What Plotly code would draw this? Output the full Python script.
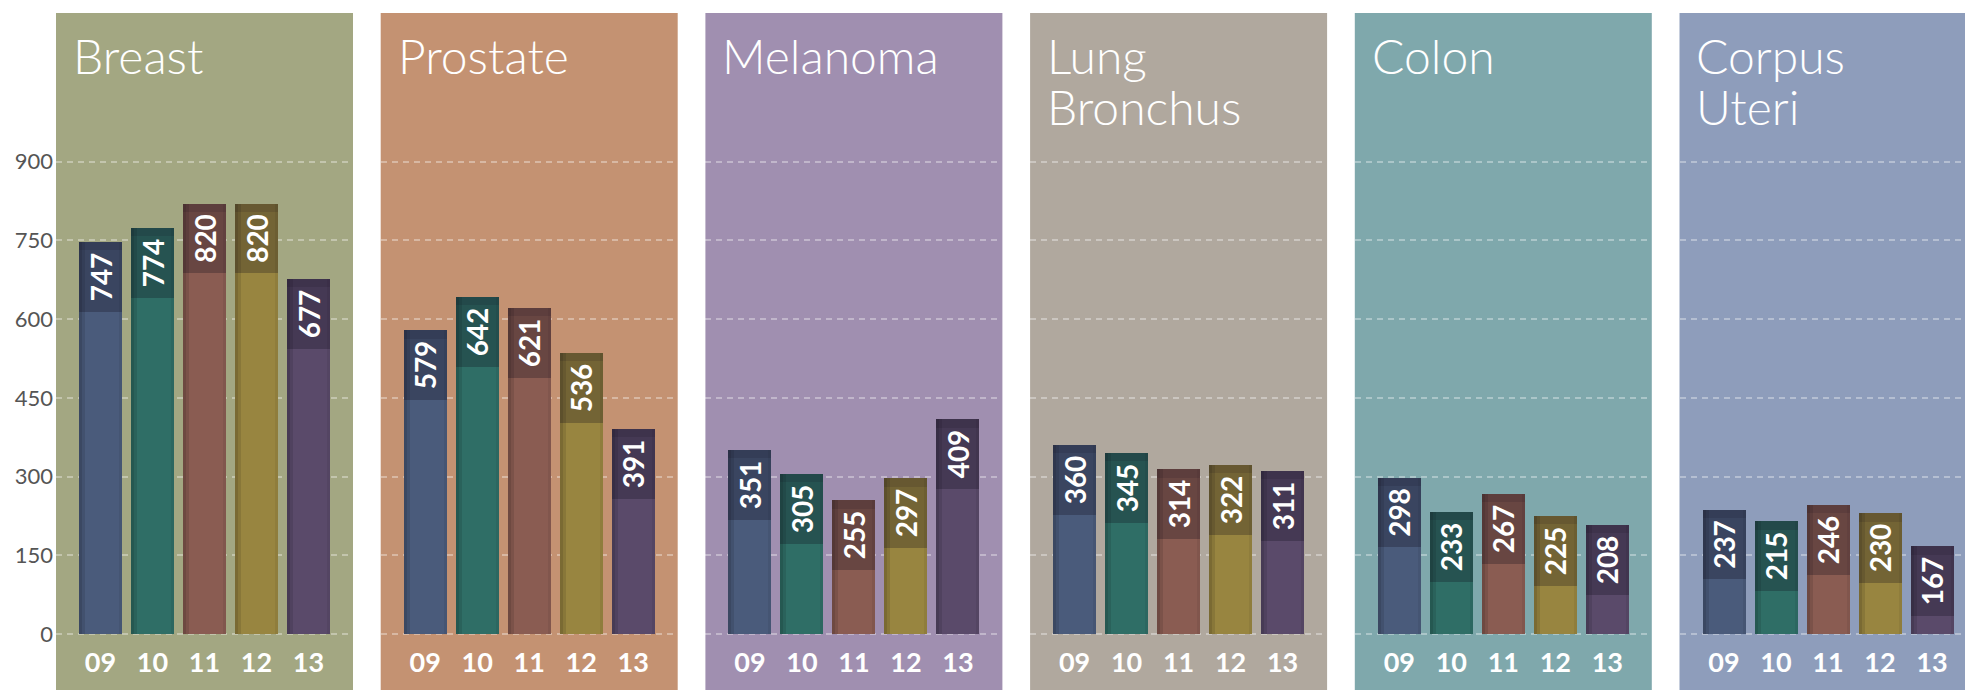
import plotly.graph_objects as go

# ---------------- data ----------------
years = ["09", "10", "11", "12", "13"]
panel_titles = [["Breast"], ["Prostate"], ["Melanoma"], ["Lung", "Bronchus"], ["Colon"], ["Corpus", "Uteri"]]
breast = [747, 774, 820, 820, 677]
prostate = [579, 642, 621, 536, 391]
melanoma = [351, 305, 255, 297, 409]
lung_bronchus = [360, 345, 314, 322, 311]
colon = [298, 233, 267, 225, 208]
corpus_uteri = [237, 215, 246, 230, 167]
y_ticks = [0, 150, 300, 450, 600, 750, 900]

series = [breast, prostate, melanoma, lung_bronchus, colon, corpus_uteri]

# ---------------- style ----------------
W, H = 1965, 690
panel_bg = ["#a3a782", "#c49272", "#a08fb0", "#b0a89e", "#7fa8ac", "#8e9dbb"]
bar_colors = ["#4a5b7b", "#2f6e66", "#8a5c52", "#988540", "#5a4a6a"]
CAP = 133          # height (data units) of the darker label cap
BAR_W = 0.83
PX_PER_CAT = 52.0
PANEL_LEFT0, PANEL_PITCH, PANEL_W = 56, 324.7, 297
PANEL_TOP_PX, ZERO_PX = 13, 634
px_per_unit = 0.5248
y_lo = -(H - ZERO_PX) / px_per_unit
y_hi = (ZERO_PX - PANEL_TOP_PX) / px_per_unit
title_font = dict(family="Lato Light, Lato", size=48, color="white", weight=300)

fig = go.Figure()
layout = dict(
    width=W, height=H, margin=dict(l=0, r=0, t=0, b=0),
    paper_bgcolor="white", plot_bgcolor="rgba(0,0,0,0)",
    barmode="overlay", showlegend=False, bargap=0,
    shapes=[], annotations=[],
)

for i, vals in enumerate(series):
    n = i + 1
    xa = "x" if n == 1 else f"x{n}"
    ya = "y" if n == 1 else f"y{n}"
    left = PANEL_LEFT0 + PANEL_PITCH * i
    d0 = left / W
    d1 = min((left + PANEL_W) / W, 1.0)
    x_lo = -0.856
    x_hi = x_lo + (d1 - d0) * W / PX_PER_CAT

    # full bars
    fig.add_trace(go.Bar(x=years, y=vals, width=BAR_W, marker=dict(color=bar_colors, line=dict(width=0)),
                         xaxis=xa, yaxis=ya, hoverinfo="skip"))
    # left-edge shading
    fig.add_trace(go.Bar(x=years, y=vals, width=0.12, offset=-BAR_W / 2,
                         marker=dict(color="rgba(0,0,0,0.10)", line=dict(width=0)),
                         xaxis=xa, yaxis=ya, hoverinfo="skip"))
    fig.add_trace(go.Bar(x=years, y=vals, width=0.05, offset=-BAR_W / 2,
                         marker=dict(color="rgba(0,0,0,0.10)", line=dict(width=0)),
                         xaxis=xa, yaxis=ya, hoverinfo="skip"))
    # right-edge shading
    fig.add_trace(go.Bar(x=years, y=vals, width=0.05, offset=BAR_W / 2 - 0.05,
                         marker=dict(color="rgba(0,0,0,0.06)", line=dict(width=0)),
                         xaxis=xa, yaxis=ya, hoverinfo="skip"))
    # dark cap with value label
    fig.add_trace(go.Bar(x=years, y=[CAP] * len(vals), base=[v - CAP for v in vals], width=BAR_W,
                         marker=dict(color="rgba(15,10,25,0.27)", line=dict(width=0)),
                         text=[str(v) for v in vals], textposition="inside", insidetextanchor="middle",
                         textangle=-90, constraintext="none",
                         textfont=dict(family="Lato", size=28, color="white", weight=700),
                         xaxis=xa, yaxis=ya, hoverinfo="skip"))
    # thin darker top edge of cap
    fig.add_trace(go.Bar(x=years, y=[CAP * 0.12] * len(vals), base=[v - CAP * 0.12 for v in vals], width=BAR_W,
                         marker=dict(color="rgba(15,10,25,0.12)", line=dict(width=0)),
                         xaxis=xa, yaxis=ya, hoverinfo="skip"))

    layout[f"xaxis{'' if n == 1 else n}"] = dict(
        domain=[d0, d1], range=[x_lo, x_hi], anchor="free", position=(H - ZERO_PX) / H,
        showgrid=False, zeroline=False, showline=False, ticks="",
        tickfont=dict(family="Lato", size=27, color="white", weight=700),
        ticklabelstandoff=10, fixedrange=True,
    )
    layout[f"yaxis{'' if n == 1 else n}"] = dict(
        domain=[0, (H - PANEL_TOP_PX) / H], range=[y_lo, y_hi], anchor=xa,
        tickvals=y_ticks, showgrid=True, gridcolor="rgba(255,255,255,0.35)", gridwidth=2,
        griddash="6px,5px", zeroline=False, showline=False, ticks="",
        showticklabels=(n == 1), tickfont=dict(family="Lato", size=22, color="#555555"),
        ticklabelstandoff=2, fixedrange=True,
    )
    layout["shapes"].append(dict(type="rect", xref=f"{xa} domain", yref="paper", x0=0, x1=1,
                                 y0=0, y1=(H - PANEL_TOP_PX) / H, fillcolor=panel_bg[i],
                                 line=dict(width=0), layer="below"))
    for j, line in enumerate(panel_titles[i]):
        layout["annotations"].append(dict(
            text=line, xref=f"{xa} domain", yref="paper", x=15 / PANEL_W, xanchor="left",
            y=(H - (55 + 52 * j)) / H, yanchor="middle", showarrow=False, font=title_font,
        ))

fig.update_layout(**layout)
fig.write_html("out.html", config={"displayModeBar": False},
               post_script="document.body.style.margin='0px';")
